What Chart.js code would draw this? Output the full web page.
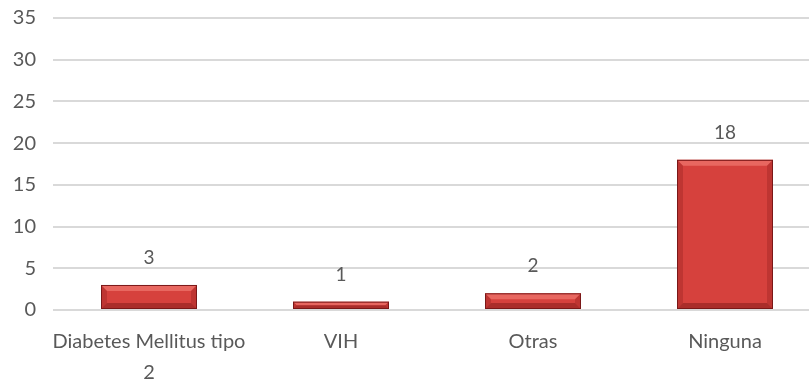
<!DOCTYPE html>
<html>
<head>
<meta charset="utf-8">
<script src="https://cdn.jsdelivr.net/npm/chart.js@4"></script>
<style>
  html, body { margin: 0; padding: 0; background: #fff; overflow: hidden; }
  #wrap { width: 821px; height: 383px; }
</style>
</head>
<body>
<div id="wrap"><canvas id="chart"></canvas></div>
<script>
// datos del gráfico
const categories = [['Diabetes Mellitus tipo', '2'], 'VIH', 'Otras', 'Ninguna'];
const values = [3, 1, 2, 18];
const yTicks = [0, 5, 10, 15, 20, 25, 30, 35];

const textColor = '#595959';
const fontFamily = 'Lato, "Open Sans", sans-serif';

// etiquetas de valor encima de las barras
const valueLabels = {
  id: 'valueLabels',
  afterDatasetsDraw(chart) {
    const ctx = chart.ctx;
    const meta = chart.getDatasetMeta(0);
    ctx.save();
    ctx.fillStyle = textColor;
    ctx.font = '19px ' + fontFamily;
    ctx.textAlign = 'center';
    ctx.textBaseline = 'middle';
    meta.data.forEach((bar, i) => {
      ctx.fillText(values[i], bar.x, bar.y - 27);
    });
    ctx.restore();
  }
};

// efecto de bisel en las barras
const bevel = {
  id: 'bevel',
  afterDatasetsDraw(chart) {
    const ctx = chart.ctx;
    const meta = chart.getDatasetMeta(0);
    ctx.save();
    meta.data.forEach(bar => {
      const l = bar.x - bar.width / 2, r = bar.x + bar.width / 2;
      const t = bar.y, b = bar.base;
      const d = Math.min(6, (b - t) / 2);
      // borde superior claro
      ctx.fillStyle = 'rgba(255,150,140,0.45)';
      ctx.beginPath();
      ctx.moveTo(l, t); ctx.lineTo(r, t); ctx.lineTo(r - d, t + d); ctx.lineTo(l + d, t + d);
      ctx.closePath(); ctx.fill();
      // borde inferior oscuro
      ctx.fillStyle = 'rgba(90,10,10,0.35)';
      ctx.beginPath();
      ctx.moveTo(l, b); ctx.lineTo(r, b); ctx.lineTo(r - d, b - d); ctx.lineTo(l + d, b - d);
      ctx.closePath(); ctx.fill();
      // bordes laterales
      ctx.fillStyle = 'rgba(120,20,20,0.25)';
      ctx.beginPath();
      ctx.moveTo(l, t); ctx.lineTo(l + d, t + d); ctx.lineTo(l + d, b - d); ctx.lineTo(l, b);
      ctx.closePath(); ctx.fill();
      ctx.beginPath();
      ctx.moveTo(r, t); ctx.lineTo(r - d, t + d); ctx.lineTo(r - d, b - d); ctx.lineTo(r, b);
      ctx.closePath(); ctx.fill();
      ctx.strokeStyle = '#7a1818';
      ctx.lineWidth = 1;
      ctx.strokeRect(l + 0.5, t + 0.5, r - l - 1, b - t - 1);
    });
    ctx.restore();
  }
};

const ctx = document.getElementById('chart').getContext('2d');
new Chart(ctx, {
  type: 'bar',
  data: {
    labels: categories,
    datasets: [{
      data: values,
      backgroundColor: '#d6413d',
      borderWidth: 0,
      barPercentage: 0.5,
      categoryPercentage: 1.0
    }]
  },
  options: {
    responsive: true,
    maintainAspectRatio: false,
    animation: false,
    layout: { padding: { top: 18, left: 0, right: 0, bottom: 0 } },
    plugins: {
      legend: { display: false },
      tooltip: { enabled: false }
    },
    scales: {
      y: {
        min: 0,
        max: 35,
        afterBuildTicks: (axis) => { axis.ticks = yTicks.map(v => ({ value: v })); },
        afterFit: (axis) => { axis.width = 53; axis.paddingTop = 0; axis.paddingBottom = 0; },
        border: { display: false },
        grid: { color: '#d9d9d9', lineWidth: 2, drawTicks: false },
        ticks: {
          color: textColor,
          padding: 17,
          font: { family: fontFamily, size: 20 }
        }
      },
      x: {
        afterFit: (axis) => { axis.height = 73; },
        border: { display: false },
        grid: { display: false },
        ticks: {
          color: textColor,
          padding: 8,
          maxRotation: 0,
          autoSkip: false,
          font: { family: fontFamily, size: 20, lineHeight: 1.55 }
        }
      }
    }
  },
  plugins: [valueLabels, bevel]
});
</script>
</body>
</html>
